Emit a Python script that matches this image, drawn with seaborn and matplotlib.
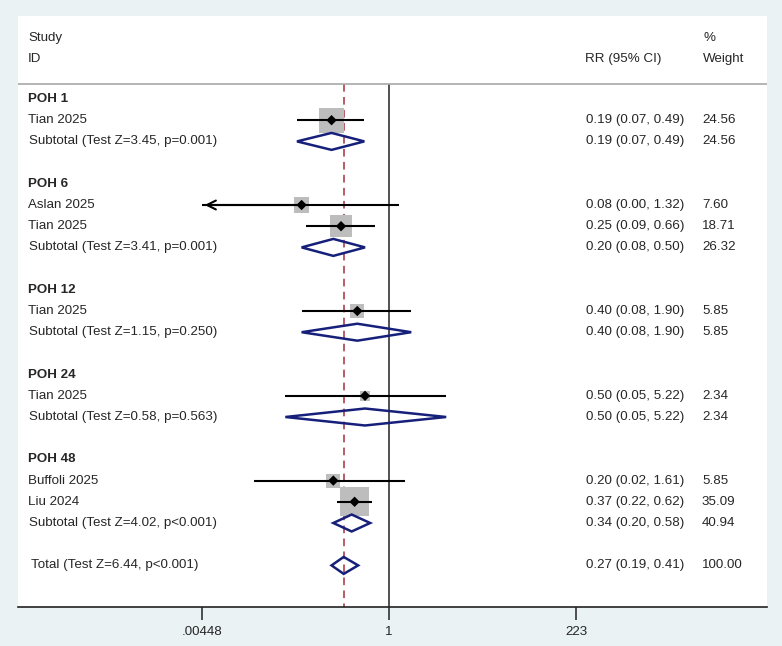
import matplotlib
matplotlib.use("Agg")
import matplotlib.pyplot as plt
from matplotlib.patches import Polygon
import numpy as np
import seaborn as sns

# --- data ---
groups = ["POH 1", "POH 6", "POH 12", "POH 24", "POH 48"]

study_names = ["Tian 2025", "Aslan 2025", "Tian 2025", "Tian 2025", "Tian 2025",
               "Buffoli 2025", "Liu 2024"]
study_group = ["POH 1", "POH 6", "POH 6", "POH 12", "POH 24", "POH 48", "POH 48"]
study_rr = [0.19, 0.08, 0.25, 0.40, 0.50, 0.20, 0.37]
study_lo = [0.07, 0.00, 0.09, 0.08, 0.05, 0.02, 0.22]
study_hi = [0.49, 1.32, 0.66, 1.90, 5.22, 1.61, 0.62]
study_w = [24.56, 7.60, 18.71, 5.85, 2.34, 5.85, 35.09]

sub_rr = [0.19, 0.20, 0.40, 0.50, 0.34]
sub_lo = [0.07, 0.08, 0.08, 0.05, 0.20]
sub_hi = [0.49, 0.50, 1.90, 5.22, 0.58]
sub_w = [24.56, 26.32, 5.85, 2.34, 40.94]
sub_test = ["Z=3.45, p=0.001", "Z=3.41, p=0.001", "Z=1.15, p=0.250",
            "Z=0.58, p=0.563", "Z=4.02, p<0.001"]

total_rr, total_lo, total_hi, total_w = 0.27, 0.19, 0.41, 100.00
total_test = "Z=6.44, p<0.001"

tick_vals = [0.00448, 1, 223]
tick_labels = [".00448", "1", "223"]

# --- style ---
sns.set_style("white")
plt.rcParams["font.family"] = ["Liberation Sans", "DejaVu Sans"]
FS = 9.6
BG = "#EAF2F3"
NAVY = "#16207A"

fig = plt.figure(figsize=(7.82, 6.46), dpi=100, facecolor=BG)
W, H = 782, 646
px_l, px_r, px_t, px_b = 18, 767, 16, 607
ax = fig.add_axes([px_l / W, 1 - px_b / H, (px_r - px_l) / W, (px_b - px_t) / H])
ax.set_facecolor("white")

# x: log scale, 1 sits at pixel 389, 34.6 px per ln unit
x0, k = 389, 34.6
ax.set_xscale("log")
ax.set_xlim(np.exp((px_l - x0) / k), np.exp((px_r - x0) / k))
# y: row index, row 0 at pixel 99, 21.2 px per row
y0, rh = 99, 21.2
ax.set_ylim((px_b - y0) / rh, (px_t - y0) / rh)

def colx(px):
    return (px - px_l) / (px_r - px_l)

tr = ax.get_yaxis_transform()
xlow, xhigh = tick_vals[0], tick_vals[-1]

# header
ax.text(colx(28), (38 - y0) / rh, "Study", transform=tr, fontsize=FS, va="center")
ax.text(colx(28), (59 - y0) / rh, "ID", transform=tr, fontsize=FS, va="center")
ax.text(colx(585), (59 - y0) / rh, "RR (95% CI)", transform=tr, fontsize=FS, va="center")
ax.text(colx(703), (38 - y0) / rh, "%", transform=tr, fontsize=FS, va="center")
ax.text(colx(703), (59 - y0) / rh, "Weight", transform=tr, fontsize=FS, va="center")
sep = (84 - y0) / rh
ax.axhline(sep, color="#A8A8A8", lw=1.2)

# reference lines
ax.vlines(1, sep, (px_b - y0) / rh, color="#333333", lw=1.2, zorder=1)
ax.vlines(total_rr, sep, (px_b - y0) / rh, color="#A3303C", lw=1.1,
          linestyles=(0, (5, 3.5)), zorder=1)

def diamond(r, lo, mid, hi):
    h = 0.4
    ax.add_patch(Polygon([(lo, r), (mid, r - h), (hi, r), (mid, r + h)],
                         closed=True, fill=False, edgecolor=NAVY, lw=1.8, zorder=4))

def fmt(rr, lo, hi):
    return f"{rr:.2f} ({lo:.2f}, {hi:.2f})"

row = 0
sq_x, sq_y, sq_s = [], [], []
for g, grp in enumerate(groups):
    ax.text(colx(28), row, grp, transform=tr, fontsize=FS, va="center", fontweight="bold")
    row += 1
    for i, name in enumerate(study_names):
        if study_group[i] != grp:
            continue
        ax.text(colx(28), row, name, transform=tr, fontsize=FS, va="center")
        ax.text(colx(586), row, fmt(study_rr[i], study_lo[i], study_hi[i]),
                transform=tr, fontsize=FS, va="center")
        ax.text(colx(702), row, f"{study_w[i]:.2f}", transform=tr, fontsize=FS, va="center")
        lo = max(study_lo[i], xlow)
        ax.hlines(row, lo, study_hi[i], color="black", lw=1.5, zorder=3)
        if study_lo[i] < xlow:
            ax.annotate("", xy=(xlow, row), xytext=(study_rr[i], row),
                        arrowprops=dict(arrowstyle="->", color="black", lw=1.5,
                                        mutation_scale=16), zorder=3)
        sq_x.append(study_rr[i])
        sq_y.append(row)
        side_px = 4.29 * np.sqrt(study_w[i]) + 3.6
        sq_s.append((0.72 * side_px) ** 2)
        row += 1
    ax.text(colx(29), row, f"Subtotal (Test {sub_test[g]})", transform=tr,
            fontsize=FS, va="center")
    ax.text(colx(586), row, fmt(sub_rr[g], sub_lo[g], sub_hi[g]),
            transform=tr, fontsize=FS, va="center")
    ax.text(colx(702), row, f"{sub_w[g]:.2f}", transform=tr, fontsize=FS, va="center")
    diamond(row, sub_lo[g], sub_rr[g], sub_hi[g])
    row += 2

ax.text(colx(31), row, f"Total (Test {total_test})", transform=tr, fontsize=FS, va="center")
ax.text(colx(586), row, fmt(total_rr, total_lo, total_hi), transform=tr, fontsize=FS, va="center")
ax.text(colx(702), row, f"{total_w:.2f}", transform=tr, fontsize=FS, va="center")
diamond(row, total_lo, total_rr, total_hi)

sns.scatterplot(x=sq_x, y=sq_y, s=sq_s, marker="s", color="#BDBDBD",
                edgecolor="none", linewidth=0, ax=ax, zorder=2, legend=False)
sns.scatterplot(x=sq_x, y=sq_y, s=28, marker="D", color="black",
                edgecolor="none", linewidth=0, ax=ax, zorder=5, legend=False)

# axes
for side in ["top", "left", "right"]:
    ax.spines[side].set_visible(False)
ax.spines["bottom"].set_color("#222222")
ax.spines["bottom"].set_linewidth(1.2)
ax.set_xticks(tick_vals)
ax.set_xticklabels(tick_labels, fontsize=FS)
ax.minorticks_off()
ax.tick_params(axis="x", direction="out", length=9, width=1.2, color="#333333",
               pad=5, bottom=True)
ax.set_yticks([])
ax.set_xlabel("")
ax.set_ylabel("")

fig.savefig("out.png", dpi=100, facecolor=BG)
